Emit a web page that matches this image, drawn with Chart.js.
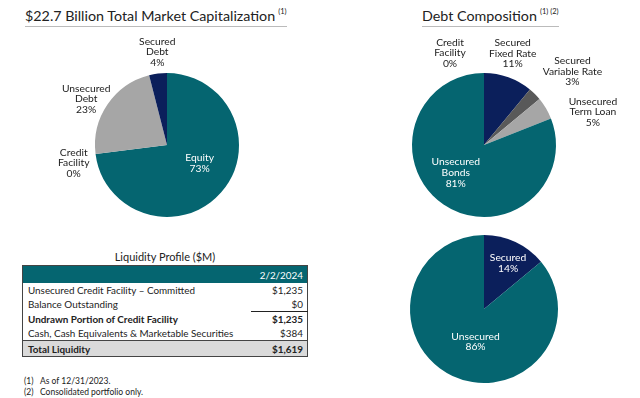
<!DOCTYPE html>
<html>
<head>
<meta charset="utf-8">
<script src="https://cdn.jsdelivr.net/npm/chart.js@4"></script>
<style>
  body { margin:0; width:640px; height:398px; background:#fff; font-family:Lato, "Open Sans", sans-serif; color:#222; position:relative; overflow:hidden; }
  canvas { position:absolute; left:0; top:0; }
  .title { position:absolute; font-size:14.3px; top:7px; border-bottom:1px solid #bbb; padding-bottom:2px; white-space:nowrap; }
  .title sup { font-size:7.5px; vertical-align:7px; margin-left:3px; }
  .ttl2 { position:absolute; left:22px; width:286px; top:250px; text-align:center; font-size:11px; }
  table { position:absolute; left:22px; top:265px; width:286px; border-collapse:collapse; border:1px solid #444; font-size:9.9px; }
  td { padding:0 3px 0 5px; height:14px; line-height:14px; white-space:nowrap; }
  tr.hd td { background:#056570; color:#fff; height:17px; text-align:right; padding-right:4px; }
  td.v { text-align:right; padding-right:4px; }
  tr.b td { font-weight:bold; }
  tr.tot td { background:#dadada; border-top:1.5px solid #444; height:15px; font-weight:bold; }
  .ul { border-bottom:1px solid #222; }
  .fn { position:absolute; left:24px; font-size:8.5px; }
  .fn span { display:inline-block; width:16px; }
</style>
</head>
<body>
<div class="title" style="left:25px">$22.7 Billion Total Market Capitalization<sup>(1)</sup></div>
<div class="title" style="left:422px">Debt Composition<sup>(1) (2)</sup></div>

<div class="ttl2">Liquidity Profile ($M)</div>
<table id="liq"></table>
<div class="fn" style="top:376px"><span>(1)</span>As of 12/31/2023.</div>
<div class="fn" style="top:387px"><span>(2)</span>Consolidated portfolio only.</div>

<canvas id="cap" width="640" height="398"></canvas>
<canvas id="debt" width="640" height="398"></canvas>
<canvas id="secured" width="640" height="398"></canvas>

<script>
// market cap pie
var capLabels = [['Equity'], ['Credit', 'Facility'], ['Unsecured', 'Debt'], ['Secured', 'Debt']];
var capValues = [73, 0, 23, 4];
var capColors = ['#056570', '#056570', '#a6a6a6', '#0b1f5b'];

// debt composition pie
var debtLabels = [['Secured', 'Fixed Rate'], ['Secured', 'Variable Rate'], ['Unsecured', 'Term Loan'], ['Unsecured', 'Bonds'], ['Credit', 'Facility']];
var debtValues = [11, 3, 5, 81, 0];
var debtColors = ['#0b1f5b', '#595959', '#a6a6a6', '#056570', '#056570'];

// secured vs unsecured
var secLabels = [['Secured'], ['Unsecured']];
var secValues = [14, 86];
var secColors = ['#0b1f5b', '#056570'];

// liquidity table
var liqRows = ['Unsecured Credit Facility \u2013 Committed', 'Balance Outstanding', 'Undrawn Portion of Credit Facility', 'Cash, Cash Equivalents & Marketable Securities'];
var liqValues = ['$1,235', '$0', '$1,235', '$384'];
var liqTotal = ['Total Liquidity', '$1,619'];
var liqDate = '2/2/2024';

var tbl = '<tr class="hd"><td></td><td>' + liqDate + '</td></tr>';
liqRows.forEach(function (r, i) {
  var cls = i == 2 ? ' class="b"' : '';
  var vc = i == 1 ? 'v ul' : 'v';
  tbl += '<tr' + cls + '><td>' + r.replace('&', '&amp;') + '</td><td class="' + vc + '">' + liqValues[i] + '</td></tr>';
});
tbl += '<tr class="tot"><td>' + liqTotal[0] + '</td><td class="v">' + liqTotal[1] + '</td></tr>';
document.getElementById('liq').innerHTML = tbl;

// label placement: [radius factor, dx, dy, color]
var labelPlugin = {
  id: 'sliceLabels',
  afterDatasetsDraw: function (chart, args, opts) {
    var ctx = chart.ctx;
    var ds = chart.data.datasets[0];
    chart.getDatasetMeta(0).data.forEach(function (arc, i) {
      var p = opts.place[i];
      var mid = (arc.startAngle + arc.endAngle) / 2;
      var x = arc.x + Math.cos(mid) * arc.outerRadius * p[0] + p[1];
      var y = arc.y + Math.sin(mid) * arc.outerRadius * p[0] + p[2];
      var lines = chart.data.labels[i].concat([ds.data[i] + '%']);
      ctx.save();
      ctx.font = '10.3px Lato, sans-serif';
      ctx.fillStyle = p[3];
      ctx.textAlign = 'center';
      ctx.textBaseline = 'middle';
      var lh = 10.6;
      lines.forEach(function (t, k) {
        ctx.fillText(t, x, y + (k - (lines.length - 1) / 2) * lh);
      });
      ctx.restore();
    });
  }
};

function makePie(id, labels, values, colors, pad, place) {
  return new Chart(document.getElementById(id), {
    type: 'pie',
    data: {
      labels: labels,
      datasets: [{ data: values, backgroundColor: colors, borderWidth: 0 }]
    },
    options: {
      responsive: false,
      animation: false,
      layout: { padding: pad },
      plugins: {
        legend: { display: false },
        tooltip: { enabled: false },
        sliceLabels: { place: place }
      }
    },
    plugins: [labelPlugin]
  });
}

makePie('cap', capLabels, capValues, capColors,
  { left: 95, right: 401, top: 73, bottom: 181 },
  [[0.55, 3, -8, '#fff'], [1.32, 1, 6, '#222'], [1.29, -4, 6, '#222'], [1.3, 2, 0, '#222']]);

makePie('debt', debtLabels, debtValues, debtColors,
  { left: 412, right: 84, top: 73, bottom: 181 },
  [[1.34, -4, -1, '#222'], [1.6, 7, 8, '#222'], [1.58, 11, 25, '#222'], [0.55, -6, -5, '#fff'], [1.36, -34, 6, '#222']]);

makePie('secured', secLabels, secValues, secColors,
  { left: 410, right: 82, top: 235, bottom: 15 },
  [[0.7, 2, 1, '#fff'], [0.46, 6, 2, '#fff']]);
</script>
</body>
</html>
